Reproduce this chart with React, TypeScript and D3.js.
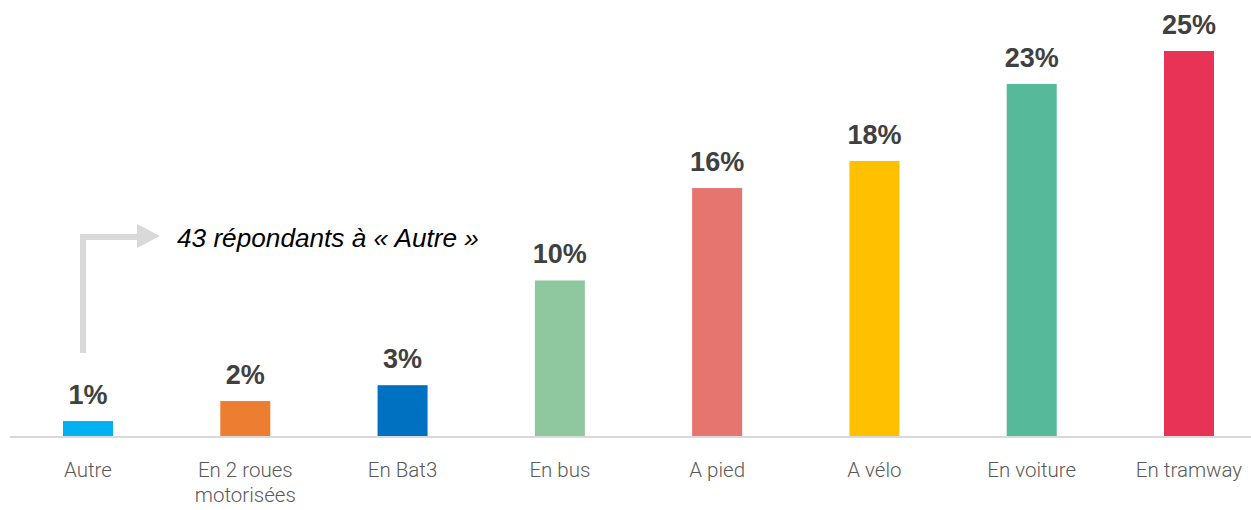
import React from "react";
import * as d3 from "d3";

const categories = ["Autre", "En 2 roues\nmotorisées", "En Bat3", "En bus", "A pied", "A vélo", "En voiture", "En tramway"];
const values = [0.97, 2.27, 3.3, 10.1, 16.1, 17.86, 22.86, 25.0];
const valueLabels = ["1%", "2%", "3%", "10%", "16%", "18%", "23%", "25%"];
const colors = ["#00b0f0", "#ed7d31", "#0070c0", "#8fc79e", "#e6756f", "#ffc000", "#55b99a", "#e83256"];
const annotation = "43 répondants à « Autre »";

export default function App() {
  const W = 1251, H = 510;
  const x = d3.scalePoint<string>().domain(categories).range([88, 1189]);
  const y = d3.scaleLinear().domain([0, 25]).range([436, 51]);
  const bw = 50;
  const ax = x(categories[0])! - 5;
  return (
    <svg width={W} height={H} style={{ position: "absolute", left: 0, top: 0, background: "#fff" }}>
      {categories.map((c, i) => (
        <g key={c}>
          <rect x={x(c)! - bw / 2} y={y(values[i])} width={bw} height={y(0) - y(values[i])} fill={colors[i]} />
          <text x={x(c)!} y={y(values[i]) - 17} textAnchor="middle" fontFamily="Liberation Sans, Arial, sans-serif" fontWeight="bold" fontSize={27} fill="#404040">
            {valueLabels[i]}
          </text>
          {c.split("\n").map((line, j) => (
            <text key={j} x={x(c)!} y={477 + j * 25} textAnchor="middle" fontFamily="Roboto, sans-serif" fontWeight={300} fontSize={20.5} fill="#595959">
              {line}
            </text>
          ))}
        </g>
      ))}
      <line x1={10} x2={1251} y1={437} y2={437} stroke="#d9d9d9" strokeWidth={2} />
      <path d={`M${ax},${353} V${237} H${140}`} fill="none" stroke="#d9d9d9" strokeWidth={6} />
      <path d={`M137,224 L160,236 L137,248 Z`} fill="#d9d9d9" />
      <text x={177} y={247} fontFamily="Liberation Sans, Arial, sans-serif" fontStyle="italic" fontSize={26.2} fill="#000">
        {annotation}
      </text>
    </svg>
  );
}
